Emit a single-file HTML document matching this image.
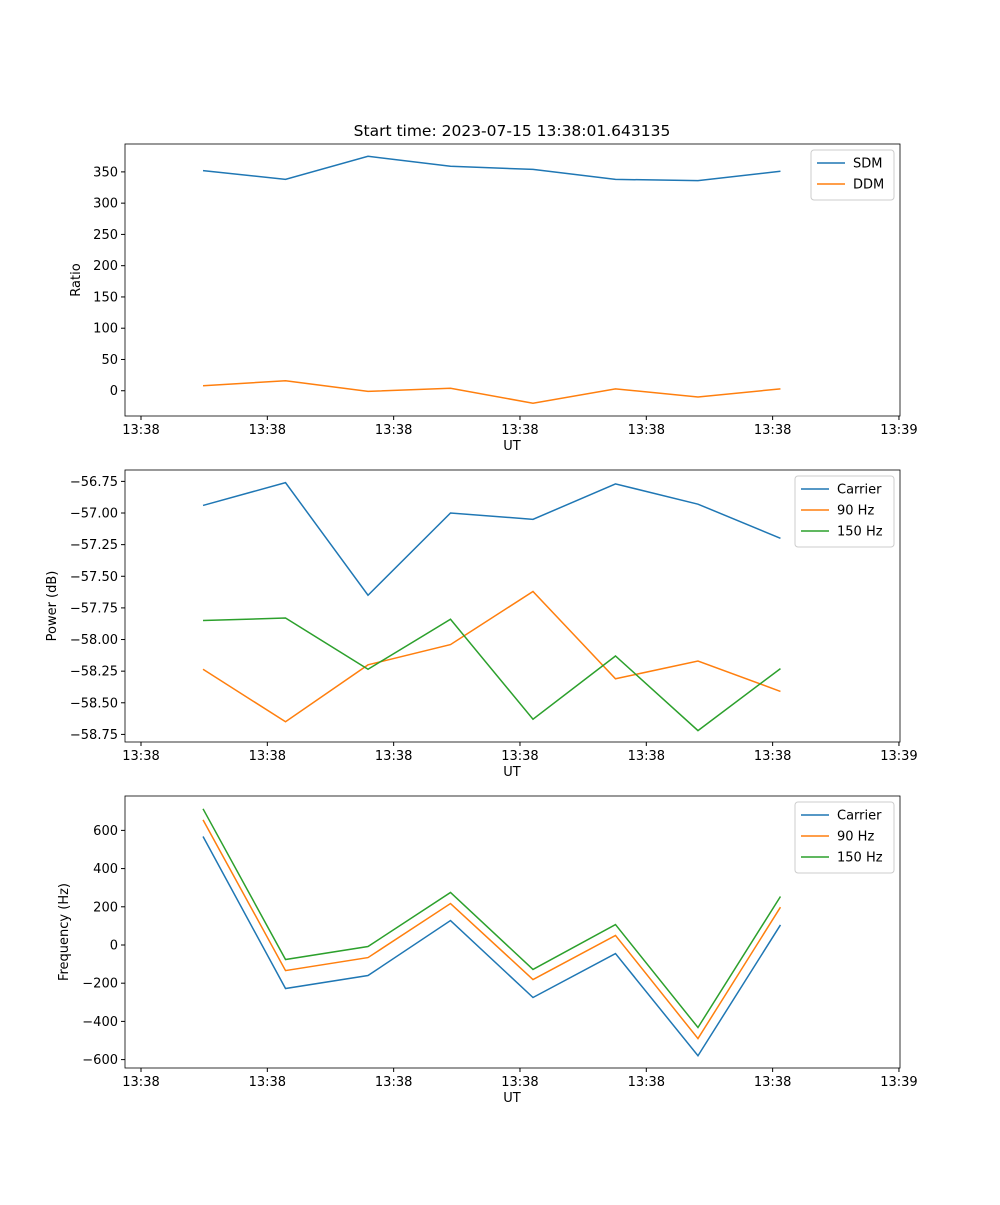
<!DOCTYPE html>
<html><head><meta charset="utf-8"><style>
body{margin:0;background:#fff;font-family:"Liberation Sans","DejaVu Sans",sans-serif;}
svg text{font-family:"DejaVu Sans","Liberation Sans",sans-serif;font-size:13px;fill:#000;}
</style></head><body>
<svg id="chart" width="1000" height="1200" xmlns="http://www.w3.org/2000/svg"></svg>
<script>
const times=[4.91,11.44,17.97,24.5,31.03,37.56,44.09,50.62];
const xTickLabels=["13:38","13:38","13:38","13:38","13:38","13:38","13:39"];
const xTickVals=[0,10,20,30,40,50,60];
const sdm=[352,338,375,359,354,338,336,351];
const ddm=[8,16,-1,4,-20,3,-10,3];
const pwrCarrier=[-56.94,-56.76,-57.65,-57.00,-57.05,-56.77,-56.93,-57.20];
const pwr90=[-58.235,-58.65,-58.20,-58.04,-57.62,-58.31,-58.17,-58.41];
const pwr150=[-57.85,-57.83,-58.235,-57.84,-58.63,-58.13,-58.72,-58.23];
const frqCarrier=[568,-228,-160,128,-275,-45,-580,105];
const frq90=[655,-134,-66,217,-181,50,-490,198];
const frq150=[713,-76,-8,275,-128,107,-432,254];
const ratioTicks=[0,50,100,150,200,250,300,350];
const powerTicks=[-58.75,-58.5,-58.25,-58,-57.75,-57.5,-57.25,-57,-56.75];
const freqTicks=[-600,-400,-200,0,200,400,600];
const C=["#1f77b4","#ff7f0e","#2ca02c"];
const NS="http://www.w3.org/2000/svg";
const svg=document.getElementById('chart');
function el(t,a,p){const e=document.createElementNS(NS,t);for(const k in a)e.setAttribute(k,a[k]);(p||svg).appendChild(e);return e;}
const L=125,R=900;
const xs=t=>L+(t-(-1.267))/(61.35)*(R-L);
function panel(name,top,bot,ymin,ymax,ticks,fmt,ylabel,ylx,series,labels,legW){
  const g=el('g',{});
  
  
  const ys=v=>bot-(v-ymin)/(ymax-ymin)*(bot-top);
  xTickVals.forEach((v,i)=>{const x=xs(v);
    el('line',{x1:x,x2:x,y1:bot,y2:bot+4,stroke:'#000'},g);
    const t=el('text',{x:x,y:bot+18,'text-anchor':'middle'},g);t.textContent=xTickLabels[i];
    });
  ticks.forEach(v=>{const y=ys(v);
    el('line',{x1:L-4,x2:L,y1:y,y2:y,stroke:'#000'},g);
    const t=el('text',{x:L-7,y:y+4.5,'text-anchor':'end'},g);t.textContent=fmt(v);
    });
  series.forEach((s,i)=>{
    const p=el('polyline',{points:s.map((v,j)=>xs(times[j])+','+ys(v)).join(' '),fill:'none',stroke:C[i],'stroke-width':1.5},g);
    
    });
  el('rect',{x:L,y:top,width:R-L,height:bot-top,fill:'none',stroke:'#000','stroke-width':0.8},g);
  const xl=el('text',{x:512,y:bot+34,'text-anchor':'middle'},g);xl.textContent='UT';
  
  const yl=el('text',{x:ylx,y:(top+bot)/2,'text-anchor':'middle',transform:`rotate(-90 ${ylx} ${(top+bot)/2})`},g);yl.textContent=ylabel;
  
  const lh=labels.length*21+8, lx=R-6-legW;
  const lg=el('g',{},g);
  
  el('rect',{x:lx,y:top+6,width:legW,height:lh,rx:3,fill:'#fff',stroke:'#ccc'},lg);
  labels.forEach((lab,i)=>{const y=top+19+i*21;
    el('line',{x1:lx+6,x2:lx+34,y1:y,y2:y,stroke:C[i],'stroke-width':1.5},lg);
    const t=el('text',{x:lx+42,y:y+4.5},lg);t.textContent=lab;
    });
}
const title=el('text',{x:512,y:136,'text-anchor':'middle',style:'font-size:15.5px'});title.textContent='Start time: 2023-07-15 13:38:01.643135';

const m=v=>(v<0?'\u2212':'')+Math.abs(v);
const m2=v=>(v<0?'\u2212':'')+Math.abs(v).toFixed(2);
panel('ratio',144,416,-40.4,394.6,ratioTicks,v=>m(v),'Ratio',80,[sdm,ddm],['SDM','DDM'],83);
panel('power',470,742,-58.81,-56.66,powerTicks,v=>m2(v),'Power (dB)',56,[pwrCarrier,pwr90,pwr150],['Carrier','90 Hz','150 Hz'],99);
panel('frequency',796,1068,-644,780,freqTicks,v=>m(v),'Frequency (Hz)',68,[frqCarrier,frq90,frq150],['Carrier','90 Hz','150 Hz'],99);
</script>
</body></html>
